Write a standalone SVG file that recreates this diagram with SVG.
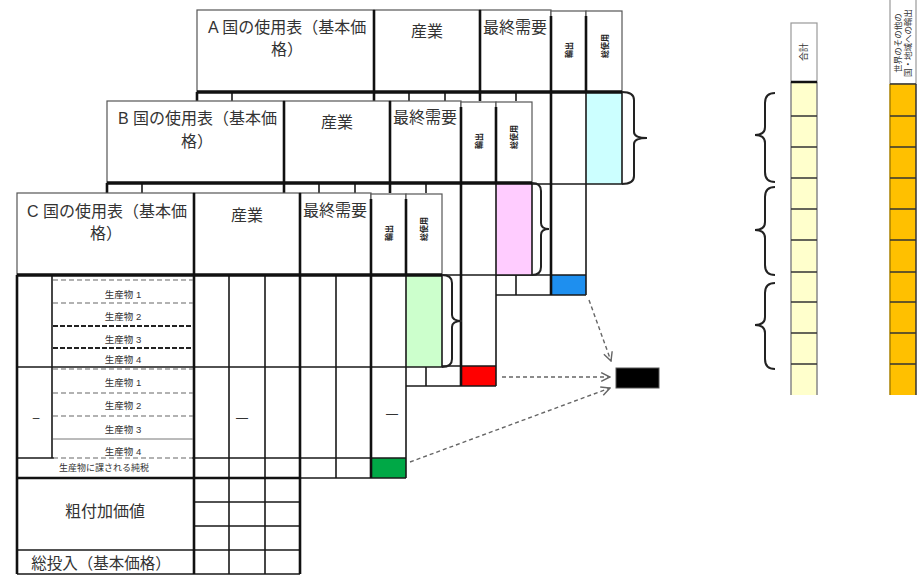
<svg xmlns="http://www.w3.org/2000/svg" xmlns:xlink="http://www.w3.org/1999/xlink" width="918" height="580" viewBox="0 0 918 580">
<style>
.t{font-family:"Liberation Sans","Noto Sans CJK JP",sans-serif;fill:#333}
.ttl{font-size:16px}
.vt{font-size:8px;font-weight:bold;fill:#222}
.pl{font-size:9.5px}
.hb{fill:#fff;stroke:#555;stroke-width:1.2}
.ln{fill:none;stroke:#1a1a1a;stroke-width:1.6}
.tk{fill:none;stroke:#111;stroke-width:2.6}
.hbot{fill:none;stroke:#111;stroke-width:3.5}
.br{fill:none;stroke:#222;stroke-width:2}
.arr{fill:none;stroke:#666;stroke-width:1.4;stroke-dasharray:4 3}
.dl{fill:none;stroke:#666;stroke-width:1.2;stroke-dasharray:5 3}
.dk{fill:none;stroke:#222;stroke-width:2;stroke-dasharray:5 2}
.rl{fill:none;stroke:#333;stroke-width:1.3}
</style>
<defs>
<marker id="ah" viewBox="0 0 10 10" refX="9" refY="5" markerWidth="11" markerHeight="11" markerUnits="userSpaceOnUse" orient="auto">
<path d="M1,1 L9,5 L1,9" fill="none" stroke="#666" stroke-width="1.3"/>
</marker>
<path id="tbg" d="M0,0 H425 V174 H389 V285 H0 Z" fill="#fff"/>
<g id="tln">
<rect class="hb" x="0" y="0" width="177" height="82"/>
<rect class="hb" x="177" y="0" width="106" height="82"/>
<rect class="hb" x="283" y="0" width="71" height="82"/>
<rect class="hb" x="354" y="1" width="35" height="81"/>
<rect class="hb" x="389" y="1" width="36" height="81"/>
<path class="tk" d="M177,0 V82 M283,0 V82 M354,6 V82 M389,6 V82"/>
<path class="ln" d="M0,174 H425 M0,265 H389 M0,285 H389 M35,82 V265 M212,82 V285 M248,82 V285 M319,82 V285 M389,82 V285 M425,82 V174"/>
<path class="tk" d="M0,82 V285 M177,82 V285 M283,82 V285 M354,82 V285"/>
<path class="hbot" d="M0,82 H425"/>
</g>
</defs>

<g id="table-A">
<use xlink:href="#tbg" transform="translate(197,10)"/>
<rect x="586" y="92" width="36" height="92" fill="#CCFFFF"/>
<rect x="551" y="275" width="35" height="20" fill="#1E8FEF"/>
<use xlink:href="#tln" transform="translate(197,10)"/>
<text class="t ttl" x="208" y="33">A 国の使用表（基本価</text>
<text class="t ttl" x="287" y="55" text-anchor="middle">格）</text>
<text class="t ttl" x="427" y="37" text-anchor="middle">産業</text>
<text class="t ttl" x="483" y="33">最終需要</text>
<text class="t vt" transform="translate(569,50) rotate(-90)" text-anchor="middle" dominant-baseline="central">輸出</text>
<text class="t vt" transform="translate(605,46) rotate(-90)" text-anchor="middle" dominant-baseline="central">総使用</text>
<path class="br" d="M622,92 Q634,92 634,100 L634,132 Q634,138 647,138 Q634,138 634,144 L634,176 Q634,184 622,184"/>
</g>

<g id="table-B">
<use xlink:href="#tbg" transform="translate(107,101)"/>
<rect x="496" y="183" width="36" height="92" fill="#FFCCFF"/>
<rect x="461" y="366" width="35" height="20" fill="#FF0000"/>
<use xlink:href="#tln" transform="translate(107,101)"/>
<text class="t ttl" x="118" y="124">B 国の使用表（基本価</text>
<text class="t ttl" x="197" y="147" text-anchor="middle">格）</text>
<text class="t ttl" x="337" y="128" text-anchor="middle">産業</text>
<text class="t ttl" x="393" y="123">最終需要</text>
<text class="t vt" transform="translate(479,141) rotate(-90)" text-anchor="middle" dominant-baseline="central">輸出</text>
<text class="t vt" transform="translate(514,137) rotate(-90)" text-anchor="middle" dominant-baseline="central">総使用</text>
<path class="br" d="M532,183 Q541,183 541,191 L541,223 Q541,229 549,229 Q541,229 541,235 L541,267 Q541,275 532,275"/>
</g>

<g id="table-C">
<use xlink:href="#tbg" transform="translate(17,193)"/>
<rect x="17" y="478" width="283" height="96" fill="#fff"/>
<rect x="406" y="275" width="36" height="92" fill="#CCFFCC"/>
<rect x="371" y="458" width="35" height="20" fill="#00A846"/>
<use xlink:href="#tln" transform="translate(17,193)"/>
<path class="ln" d="M17,550 H300 M17,574 H300 M194,502 H300 M194,526 H300 M229,478 V574 M265,478 V574"/>
<path class="tk" d="M17,478 V574 M194,478 V574 M300,478 V574 M17,478 H300"/>
<path fill="none" stroke="#fff" stroke-width="2.2" d="M54,458 H192"/>
<path class="dl" d="M53,280 H193 M53,303 H193 M53,369 H193 M53,393 H193 M53,416 H193 M53,458 H193"/>
<path class="dk" d="M53,326 H193 M53,348 H193"/>
<path fill="none" stroke="#777" stroke-width="1" d="M53,439 H193"/>
<text class="t ttl" x="27" y="217">C 国の使用表（基本価</text>
<text class="t ttl" x="106" y="239" text-anchor="middle">格）</text>
<text class="t ttl" x="247" y="221" text-anchor="middle">産業</text>
<text class="t ttl" x="303" y="216">最終需要</text>
<text class="t vt" transform="translate(389,233) rotate(-90)" text-anchor="middle" dominant-baseline="central">輸出</text>
<text class="t vt" transform="translate(424,229) rotate(-90)" text-anchor="middle" dominant-baseline="central">総使用</text>
<text class="t pl" x="123" y="298" text-anchor="middle">生産物 1</text>
<text class="t pl" x="123" y="320" text-anchor="middle">生産物 2</text>
<text class="t pl" x="123" y="343" text-anchor="middle">生産物 3</text>
<text class="t pl" x="123" y="363" text-anchor="middle">生産物 4</text>
<text class="t pl" x="123" y="386" text-anchor="middle">生産物 1</text>
<text class="t pl" x="123" y="409" text-anchor="middle">生産物 2</text>
<text class="t pl" x="123" y="433" text-anchor="middle">生産物 3</text>
<text class="t pl" x="123" y="455" text-anchor="middle">生産物 4</text>
<text class="t" x="104" y="471" text-anchor="middle" font-size="9">生産物に課される純税</text>
<text class="t" x="105" y="517" text-anchor="middle" font-size="16">粗付加価値</text>
<text class="t" x="101" y="569" text-anchor="middle" font-size="15.5">総投入（基本価格）</text>
<text class="t" x="36" y="422" text-anchor="middle" font-size="12" fill="#666">–</text>
<text class="t" x="242" y="422" text-anchor="middle" font-size="12" fill="#777">—</text>
<text class="t" x="392" y="418" text-anchor="middle" font-size="12" fill="#777">—</text>
<path class="br" d="M442,275 Q452,275 452,283 L452,315 Q452,321 462,321 Q452,321 452,327 L452,359 Q452,367 442,367"/>
</g>

<g id="sink">
<rect x="616" y="368" width="43" height="20" fill="#000" stroke="#555" stroke-width="1"/>
</g>

<g id="connectors">
<path class="arr" d="M589,300 L611,361" marker-end="url(#ah)"/>
<path class="arr" d="M502,377 L610,377" marker-end="url(#ah)"/>
<path class="arr" d="M410,462 L610,388" marker-end="url(#ah)"/>
</g>

<g id="col-total">
<rect x="791" y="23" width="26" height="59" fill="#fff" stroke="#999" stroke-width="1.2"/>
<rect x="791" y="82" width="26" height="313" fill="#FFFFCC"/>
<path fill="none" stroke="#888" stroke-width="1.5" d="M791,82 V395 M817,82 V395"/>
<path class="rl" d="M791,116 H817 M791,147 H817 M791,178 H817 M791,209 H817 M791,240 H817 M791,272 H817 M791,302 H817 M791,333 H817 M791,364 H817"/>
<path fill="none" stroke="#111" stroke-width="2.5" d="M791,82 H817"/>
<text class="t" transform="translate(804,52) rotate(-90)" text-anchor="middle" dominant-baseline="central" font-size="9">合計</text>
<path class="br" d="M775,93 Q765,93 765,103 L765,127 Q765,135 755,135 Q765,135 765,143 L765,172 Q765,182 775,182"/>
<path class="br" d="M775,187 Q765,187 765,197 L765,222 Q765,230 755,230 Q765,230 765,238 L765,265 Q765,275 775,275"/>
<path class="br" d="M775,283 Q765,283 765,293 L765,317 Q765,325 755,325 Q765,325 765,333 L765,359 Q765,369 775,369"/>
</g>

<g id="col-export">
<rect x="890" y="-1" width="26" height="85" fill="#fff" stroke="#999" stroke-width="1.2"/>
<rect x="890" y="84" width="26" height="311" fill="#FFC000"/>
<path fill="none" stroke="#A88000" stroke-width="1.5" d="M890,84 V395"/>
<path fill="none" stroke="#333" stroke-width="1.5" d="M916,84 V395"/>
<path class="rl" d="M890,116 H916 M890,147 H916 M890,178 H916 M890,209 H916 M890,240 H916 M890,272 H916 M890,302 H916 M890,333 H916 M890,364 H916"/>
<path fill="none" stroke="#333" stroke-width="1.5" d="M890,84 H916"/>
<text class="t" transform="translate(898,43) rotate(-90)" text-anchor="middle" dominant-baseline="central" font-size="8.5">世界のその他の</text>
<text class="t" transform="translate(908,43) rotate(-90)" text-anchor="middle" dominant-baseline="central" font-size="8.5">国・地域への輸出</text>
</g>
</svg>
